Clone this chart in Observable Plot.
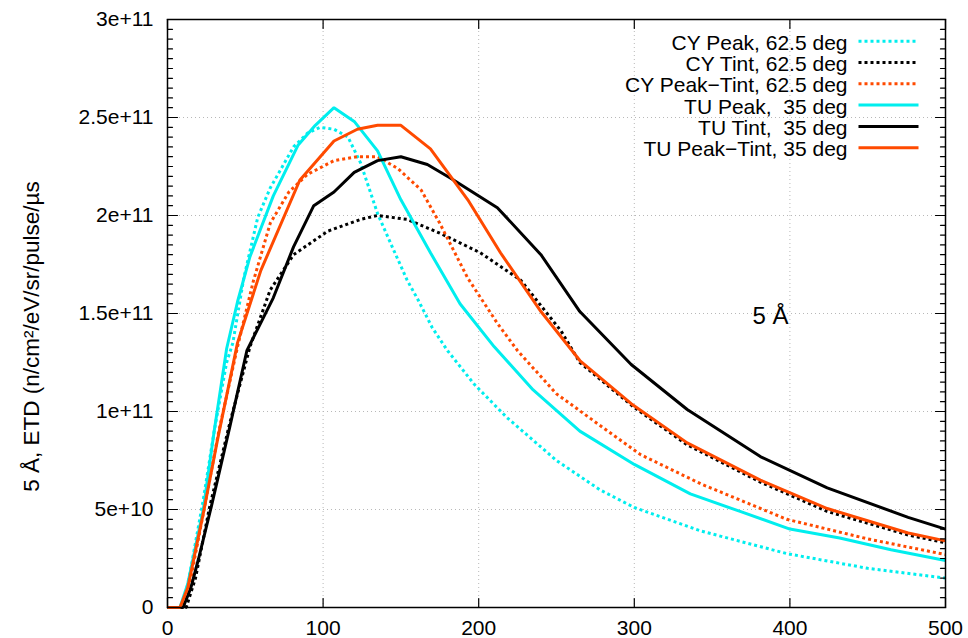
<!DOCTYPE html>
<html><head><meta charset="utf-8">
<script src="https://cdn.jsdelivr.net/npm/d3@7"></script>
<script src="https://cdn.jsdelivr.net/npm/@observablehq/plot@0.6"></script>
<style>
html,body{margin:0;padding:0;background:#fff;}
#chart svg text{white-space:pre;}
</style></head><body><div id="chart"></div>
<script>
// ---- data (y in units of 1e11) ----
const xTicks = [0, 100, 200, 300, 400, 500];
const xTickLabels = ["0", "100", "200", "300", "400", "500"];
const yTicks = [0, 0.5, 1, 1.5, 2, 2.5, 3];
const yTickLabels = ["0", "5e+10", "1e+11", "1.5e+11", "2e+11", "2.5e+11", "3e+11"];
const yMinor = d3.range(0, 61).map(i => i * 0.05);

const cyPeakX = [0, 10, 15, 23, 30, 38, 42, 49, 58, 66, 81, 90, 98, 107, 116, 124, 135, 145, 154, 161, 170, 180, 197, 218, 250, 278, 300, 343, 398, 450, 500];
const cyPeakY = [0, 0, 0.2, 0.55, 0.9, 1.25, 1.35, 1.68, 1.99, 2.14, 2.35, 2.42, 2.45, 2.44, 2.4, 2.27, 2.01, 1.83, 1.67, 1.57, 1.43, 1.31, 1.14, 0.97, 0.75, 0.6, 0.51, 0.39, 0.275, 0.2, 0.15];

const cyTintX = [0, 12, 18, 27, 40, 53, 66, 81, 103, 124, 135, 154, 175, 201, 227, 253, 265, 300, 334, 381, 424, 476, 500];
const cyTintY = [0, 0, 0.15, 0.51, 0.94, 1.33, 1.62, 1.8, 1.92, 1.98, 2.0, 1.98, 1.91, 1.81, 1.67, 1.41, 1.25, 1.02, 0.83, 0.64, 0.49, 0.37, 0.33];

const cyPtX = [0, 10, 15, 23, 33, 45, 55, 66, 78, 90, 107, 122, 135, 148, 163, 175, 193, 212, 225, 250, 283, 304, 343, 398, 450, 500];
const cyPtY = [0, 0, 0.15, 0.48, 0.9, 1.33, 1.66, 1.96, 2.12, 2.21, 2.28, 2.3, 2.3, 2.24, 2.13, 1.96, 1.68, 1.45, 1.31, 1.09, 0.9, 0.78, 0.63, 0.45, 0.35, 0.27];

const tuPeakX = [0, 8, 13, 23, 30, 38, 45, 53, 68, 84, 95, 107, 120, 135, 150, 169, 188, 210, 235, 265, 300, 336, 368, 400, 432, 465, 500];
const tuPeakY = [0, 0, 0.12, 0.5, 0.9, 1.32, 1.56, 1.79, 2.1, 2.36, 2.46, 2.55, 2.48, 2.33, 2.08, 1.81, 1.55, 1.33, 1.11, 0.9, 0.73, 0.58, 0.49, 0.4, 0.355, 0.295, 0.24];

const tuTintX = [0, 10, 15, 20, 28, 40, 51, 68, 81, 94, 107, 120, 135, 150, 167, 182, 212, 240, 265, 298, 334, 381, 424, 476, 500];
const tuTintY = [0, 0, 0.1, 0.25, 0.51, 0.92, 1.31, 1.58, 1.84, 2.05, 2.12, 2.22, 2.28, 2.3, 2.26, 2.19, 2.04, 1.8, 1.51, 1.24, 1.01, 0.77, 0.61, 0.46, 0.4];

const tuPtX = [0, 8, 13, 23, 32, 45, 60, 85, 107, 122, 135, 150, 169, 193, 214, 240, 265, 298, 334, 381, 424, 476, 500];
const tuPtY = [0, 0, 0.1, 0.48, 0.85, 1.35, 1.72, 2.18, 2.38, 2.44, 2.46, 2.46, 2.34, 2.08, 1.81, 1.51, 1.26, 1.04, 0.84, 0.65, 0.505, 0.38, 0.34];

const seriesNames = ["CY Peak, 62.5 deg", "CY Tint, 62.5 deg", "CY Peak\u2212Tint, 62.5 deg", "TU Peak,  35 deg", "TU Tint,  35 deg", "TU Peak\u2212Tint, 35 deg"];
const seriesX = [cyPeakX, cyTintX, cyPtX, tuPeakX, tuTintX, tuPtX];
const seriesY = [cyPeakY, cyTintY, cyPtY, tuPeakY, tuTintY, tuPtY];

const yLabel = "5 \u00C5, ETD (n/cm\u00B2/eV/sr/pulse/\u00B5s";
const annotation = "5 \u00C5";

// ---- styles ----
const CYAN = "#00eeee", ORANGE = "#ff4a00", BLACK = "#000";
const seriesColor = [CYAN, BLACK, ORANGE, CYAN, BLACK, ORANGE];
const seriesDash = ["3,3", "3,3", "3,3", null, null, null];
const FONT = "Liberation Sans, Arial, Helvetica, sans-serif";
const FS = 21;
const lineShape = {draw(context, l) { context.moveTo(0, 0); context.lineTo(0, -l); }};

const rows = seriesNames.flatMap((name, s) => seriesX[s].map((x, i) => ({series: name, x, y: seriesY[s][i]})));

const marks = [];
// grid
marks.push(Plot.ruleX(xTicks, {x: d => d, stroke: "#b8b8b8", strokeDasharray: "1,3", strokeWidth: 1}));
marks.push(Plot.ruleY(yTicks, {y: d => d, stroke: "#b8b8b8", strokeDasharray: "1,3", strokeWidth: 1}));
// series
seriesNames.forEach((name, s) => {
  marks.push(Plot.line(rows.filter(r => r.series === name), {
    x: "x", y: "y", stroke: seriesColor[s], strokeWidth: 3,
    strokeDasharray: seriesDash[s], strokeLinecap: "butt", strokeLinejoin: "miter", curve: "linear"
  }));
});
// inward ticks
const tk = (data, opts) => Plot.vector(data, {anchor: "start", shape: lineShape, stroke: "black", strokeWidth: 1.2, ...opts});
marks.push(tk(yMinor, {x: 0, y: d => d, rotate: 90, length: 5}));
marks.push(tk(yMinor, {x: 500, y: d => d, rotate: -90, length: 5}));
marks.push(tk(yTicks, {x: 0, y: d => d, rotate: 90, length: 10}));
marks.push(tk(yTicks, {x: 500, y: d => d, rotate: -90, length: 10}));
marks.push(tk(xTicks, {x: d => d, y: 0, rotate: 0, length: 9}));
marks.push(tk(xTicks, {x: d => d, y: 3, rotate: 180, length: 9}));
marks.push(Plot.frame({stroke: "black", strokeWidth: 1.5}));
// axis labels
marks.push(Plot.axisX(xTicks, {tickSize: 0, tickPadding: 13, fontSize: FS, label: null,
  tickFormat: d => xTickLabels[xTicks.indexOf(d)]}));
marks.push(Plot.axisY(yTicks, {anchor: "left", tickSize: 0, tickPadding: 14, fontSize: FS, label: null,
  tickFormat: d => yTickLabels[yTicks.indexOf(d)]}));
marks.push(Plot.text([yLabel], {frameAnchor: "left", text: d => d, dx: -129, dy: 23, rotate: -90,
  lineAnchor: "bottom", textAnchor: "middle", fontSize: 22.5, fill: "black"}));
marks.push(Plot.text([annotation], {frameAnchor: "top-left", text: d => d, dx: 585, dy: 304,
  lineAnchor: "bottom", textAnchor: "start", fontSize: 24, fill: "black"}));
// legend
marks.push(Plot.text([seriesNames.join("\n")], {frameAnchor: "top-right", text: d => d, dx: -98, dy: 15,
  lineAnchor: "top", textAnchor: "end", lineHeight: 21.3 / FS, fontSize: FS, fill: "black"}));
seriesNames.forEach((name, s) => {
  marks.push(Plot.vector([name], {frameAnchor: "top-right", dx: -87, dy: 21.7 + s * 21.3, rotate: 90,
    length: 60, anchor: "start", shape: lineShape, stroke: seriesColor[s], strokeWidth: 3,
    strokeDasharray: seriesDash[s], strokeLinecap: "butt"}));
});

const chart = Plot.plot({
  width: 968, height: 638,
  marginLeft: 167, marginRight: 23, marginTop: 19, marginBottom: 31,
  x: {domain: [0, 500]},
  y: {domain: [0, 3]},
  style: {fontFamily: FONT, fontSize: FS + "px", background: "white", color: "black"},
  marks
});
document.getElementById("chart").appendChild(chart);
</script></body></html>
